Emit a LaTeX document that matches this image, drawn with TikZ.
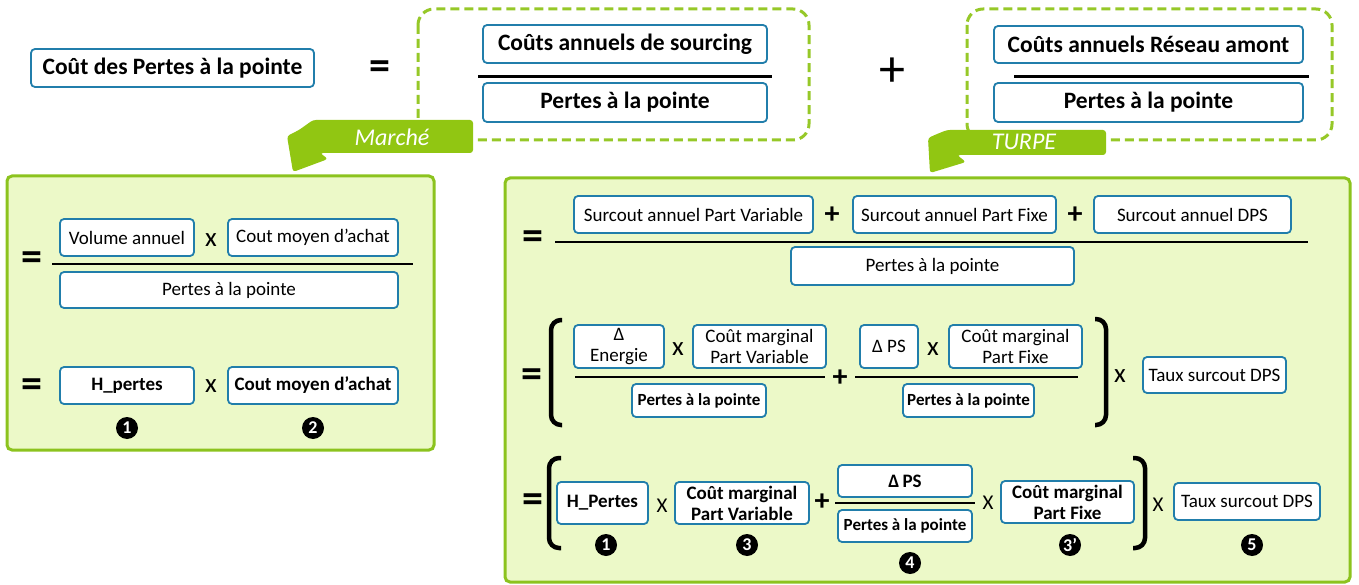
\documentclass[tikz,border=0pt]{standalone}
\usepackage{fontspec}
\setmainfont{Carlito}
\definecolor{boxblue}{RGB}{33,126,171}
\definecolor{dashgreen}{RGB}{150,200,40}
\definecolor{boxgreen}{RGB}{140,195,30}
\definecolor{fillgreen}{RGB}{236,249,200}
\definecolor{arrowgreen}{RGB}{145,198,18}
\tikzset{
  bx/.style={draw=boxblue, line width=1.8pt, rounded corners=4pt, fill=white, inner sep=0pt, align=center},
  tb/.style={font=\bfseries\fontsize{23.5}{26}\selectfont},
  rg/.style={font=\fontsize{19}{21.5}\selectfont},
  bd/.style={font=\bfseries\fontsize{19}{21}\selectfont},
  bds/.style={font=\bfseries\fontsize{17}{19}\selectfont},
  eqs/.style={font=\bfseries\fontsize{42}{42}\selectfont, inner sep=0pt},
  bigplus/.style={font=\fontsize{52}{52}\selectfont, inner sep=0pt},
  bplus/.style={font=\bfseries\fontsize{30}{30}\selectfont, inner sep=0pt},
  times/.style={font=\fontsize{27}{27}\selectfont, inner sep=0pt},
  timesc/.style={font=\fontsize{21}{21}\selectfont, inner sep=0pt},
  num/.style={circle, fill=black, text=white, inner sep=0pt, minimum size=22pt, font=\bfseries\fontsize{18}{18}\selectfont},
  fbar/.style={line width=2.6pt, black},
  brk/.style={line width=4.5pt, black, rounded corners=10pt},
  dbox/.style={draw=dashgreen, line width=3pt, dash pattern=on 9pt off 5pt, rounded corners=16pt},
  gbox/.style={draw=boxgreen, fill=fillgreen, line width=3pt, rounded corners=5pt},
  arr/.style={fill=arrowgreen, rounded corners=3pt},
  arrtxt/.style={text=white, font=\itshape\fontsize{24}{24}\selectfont, inner sep=0pt}
}
\begin{document}
\begin{tikzpicture}[x=1pt,y=-1pt]
\useasboundingbox (0,0) rectangle (1359,585);
% green boxes
\draw[gbox] (7,176) rectangle (434,450);
\draw[gbox] (505,178) rectangle (1350,582);
% dashed boxes
\draw[dbox] (418,9) rectangle (809,140);
\draw[dbox] (967,9) rectangle (1332,140);
% arrows
\fill[arr] (313,120) -- (473,120) -- (473,153) -- (320,153) -- (328,159) -- (293,172) -- (287,136) -- (299,130) -- cycle;
\node[arrtxt] (marche) at (392,137) {Marché};
\fill[arr] (947,130) -- (1106,130) -- (1106,155) -- (957,155) -- (966,162) -- (930,173) -- (928,138) -- (937,134) -- cycle;
\node[arrtxt] (turpe) at (1024,142) {TURPE};
% top
\node[bx, tb, minimum width=283pt, minimum height=38pt] (title) at (172.5,68) {Coût des Pertes à la pointe};
\node[eqs] (eq0) at (380,70) {=};
\node[bx, tb, minimum width=284pt, minimum height=38pt] (A1) at (625,44) {Coûts annuels de sourcing};
\node[bx, tb, minimum width=284pt, minimum height=39pt] (A2) at (625,102.5) {Pertes à la pointe};
\coordinate (a1) at (478,77); \coordinate (a2) at (772,77);
\draw[fbar, line width=3pt] (a1) -- (a2);
\node[bigplus] (plus0) at (892,72) {+};
\node[bx, tb, minimum width=309pt, minimum height=37pt] (B1) at (1148.5,44.5) {Coûts annuels Réseau amont};
\node[bx, tb, minimum width=309pt, minimum height=39pt] (B2) at (1148.5,102.5) {Pertes à la pointe};
\coordinate (b1) at (1014,77); \coordinate (b2) at (1309,77);
\draw[fbar, line width=3pt] (b1) -- (b2);
% left box
\node[eqs] (eqL1) at (32,261) {=};
\node[bx, rg, minimum width=134pt, minimum height=37pt] (L1) at (127,237.5) {Volume annuel};
\node[times] (xL1) at (211,240) {x};
\node[bx, rg, minimum width=170pt, minimum height=37pt] (L2) at (313,237.5) {Cout moyen d’achat};
\coordinate (l1) at (52,264); \coordinate (l2) at (413,264);
\draw[fbar] (l1) -- (l2);
\node[bx, rg, minimum width=338pt, minimum height=36pt] (L3) at (229,290) {Pertes à la pointe};
\node[eqs] (eqL2) at (32,388) {=};
\node[bx, bd, minimum width=134pt, minimum height=37pt] (L4) at (127,385.5) {H\_pertes};
\node[times] (xL2) at (211,386) {x};
\node[bx, bd, minimum width=170pt, minimum height=37pt] (L5) at (313,385.5) {Cout moyen d’achat};
\node[num] (nL1) at (127,428) {1};
\node[num] (nL2) at (313,428) {2};
% right box row 1
\node[eqs] (eqR1) at (533,240) {=};
\node[bx, rg, minimum width=239pt, minimum height=37pt] (R1) at (693.5,214.5) {Surcout annuel Part Variable};
\node[bplus] (pR1) at (832,215) {+};
\node[bx, rg, minimum width=203pt, minimum height=37pt] (R2) at (954.5,214.5) {Surcout annuel Part Fixe};
\node[bplus] (pR2) at (1075,215) {+};
\node[bx, rg, minimum width=197pt, minimum height=37pt] (R3) at (1192.5,214.5) {Surcout annuel DPS};
\coordinate (r1) at (555,242); \coordinate (r2) at (1308,242);
\draw[fbar] (r1) -- (r2);
\node[bx, rg, minimum width=283pt, minimum height=38pt] (R4) at (932.5,266) {Pertes à la pointe};
% row 2
\node[eqs] (eqR2) at (532,378) {=};
\draw[brk] (562,320) -- (551,320) -- (551,425) -- (562,425);
\node[bx, rg, minimum width=90pt, minimum height=43pt] (S1) at (619,346.5) {Δ\\Energie};
\node[times] (xS1) at (678,349) {x};
\node[bx, rg, minimum width=133pt, minimum height=43pt] (S2) at (759.5,346.5) {Coût marginal\\Part Variable};
\coordinate (s1) at (575,377); \coordinate (s2) at (825,377);
\draw[fbar] (s1) -- (s2);
\node[bx, bds, minimum width=134pt, minimum height=33pt] (S3) at (699,400.5) {Pertes à la pointe};
\node[bplus] (pS) at (840,378) {+};
\node[bx, rg, minimum width=58pt, minimum height=43pt] (S4) at (889,346.5) {Δ PS};
\node[times] (xS2) at (933,349) {x};
\node[bx, rg, minimum width=133pt, minimum height=43pt] (S5) at (1015.5,346.5) {Coût marginal\\Part Fixe};
\coordinate (s3) at (855,377); \coordinate (s4) at (1078,377);
\draw[fbar] (s3) -- (s4);
\node[bx, bds, minimum width=131pt, minimum height=33pt] (S6) at (968.5,400.5) {Pertes à la pointe};
\draw[brk] (1095,319) -- (1106,319) -- (1106,425) -- (1095,425);
\node[times] (xS3) at (1120,376) {x};
\node[bx, rg, minimum width=143pt, minimum height=36pt] (S7) at (1214.5,375) {Taux surcout DPS};
% row 3
\node[eqs] (eqR3) at (533,503) {=};
\draw[brk] (561,458) -- (549,458) -- (549,548) -- (561,548);
\node[bx, bd, minimum width=91pt, minimum height=42pt] (T1) at (602.5,503) {H\_Pertes};
\node[timesc] (xT1) at (662,506) {X};
\node[bx, bd, minimum width=134pt, minimum height=42pt] (T2) at (742,503) {Coût marginal\\Part Variable};
\node[bplus] (pT) at (822,502) {+};
\node[bx, bd, minimum width=134pt, minimum height=32pt] (T3) at (905,481) {Δ\,PS};
\coordinate (t1) at (835,503); \coordinate (t2) at (975,503);
\draw[fbar] (t1) -- (t2);
\node[bx, bds, minimum width=134pt, minimum height=32pt] (T4) at (905,526) {Pertes à la pointe};
\node[timesc] (xT2) at (988,503) {X};
\node[bx, bd, minimum width=133pt, minimum height=42pt] (T5) at (1067.5,502) {Coût marginal\\Part Fixe};
\draw[brk] (1133,458) -- (1145,458) -- (1145,548) -- (1133,548);
\node[timesc] (xT3) at (1158,505) {X};
\node[bx, rg, minimum width=146pt, minimum height=37pt] (T6) at (1247,501.5) {Taux surcout DPS};
\node[num] (n1) at (606,545) {1};
\node[num] (n3) at (747,545) {3};
\node[num] (n4) at (910,563) {4};
\node[num] (n3p) at (1070,545) {3’};
\node[num] (n5) at (1252,545) {5};
\end{tikzpicture}
\end{document}
